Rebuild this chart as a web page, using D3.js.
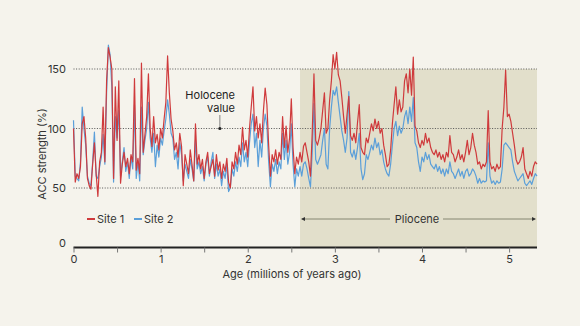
<!DOCTYPE html>
<html>
<head>
<meta charset="utf-8">
<script src="https://cdn.jsdelivr.net/npm/d3@7"></script>
<style>
  body { margin: 0; background: #f5f3ec; }
  svg { display: block; font-family: Inter, "Noto Sans", sans-serif; }
</style>
</head>
<body>
<svg width="580" height="326"></svg>
<script>
// ages sampled every 0.02 Myr, starting at 0
const ageStep = 0.02;

const site1 = [
  100,55,62,58,68,104,110,92,58,52,
  49,70,88,62,43,72,80,118,72,140,
  168,160,150,58,135,90,140,54,70,80,
  68,75,62,78,72,142,65,75,62,155,
  80,95,110,146,100,85,110,88,95,82,
  100,92,108,122,161,130,108,98,82,88,
  76,96,85,52,78,70,62,82,70,56,
  104,70,78,66,74,58,72,80,62,68,
  74,60,78,65,72,58,70,64,75,55,
  50,72,66,80,70,86,78,101,82,90,
  76,100,118,135,98,110,92,104,88,115,
  134,120,86,60,78,72,82,70,80,74,
  110,84,102,80,92,125,84,62,76,70,
  80,72,85,88,80,72,60,96,146,90,
  86,92,100,115,130,96,100,124,140,162,
  150,164,145,140,126,110,96,112,127,94,
  90,96,88,105,120,84,80,78,92,88,
  96,104,98,108,100,106,96,100,86,78,
  68,70,82,104,120,135,112,124,114,118,
  140,146,130,150,128,160,102,98,88,84,
  90,86,96,88,92,84,80,78,82,76,
  80,74,78,72,80,76,94,80,78,72,
  76,82,74,78,72,80,90,78,84,96,
  86,80,70,72,66,70,68,72,115,72,
  66,68,64,70,66,68,100,118,149,110,
  112,106,96,86,74,70,72,76,84,66,
  62,58,64,60,68,72,70
];

const site2 = [
  107,60,58,56,72,118,100,86,60,54,
  52,72,97,60,58,68,76,95,70,130,
  170,162,135,55,110,92,115,60,72,84,
  64,72,58,76,66,120,58,72,56,118,
  78,90,100,122,92,80,96,68,86,76,
  92,86,98,108,124,112,96,92,74,80,
  66,88,78,56,70,64,58,74,66,56,
  90,66,72,62,68,56,70,76,60,72,
  80,58,70,60,66,52,64,58,70,47,
  50,66,60,72,64,76,68,88,72,80,
  68,88,104,112,84,96,68,90,76,100,
  112,102,72,51,70,64,74,62,72,66,
  96,74,90,70,80,104,70,51,66,60,
  68,60,70,72,66,58,51,80,121,74,
  70,74,78,90,100,70,66,100,118,132,
  128,135,122,110,98,90,80,92,131,80,
  76,82,74,84,96,66,57,62,78,74,
  80,86,82,92,84,88,78,82,72,66,
  62,60,70,86,100,106,94,102,96,100,
  110,115,104,118,106,126,88,84,72,64,
  76,72,80,74,78,70,68,66,70,64,
  68,62,66,60,66,62,72,64,62,58,
  62,66,60,64,58,64,66,60,62,66,
  64,60,54,58,54,56,55,56,88,60,
  54,56,53,56,54,55,66,86,88,86,
  84,82,72,64,60,56,58,60,62,54,
  52,54,56,53,58,62,60
];

const yTicks = [0, 50, 100, 150];
const gridValues = [50, 100, 150];
const xTicks = [0, 0.5, 1, 1.5, 2, 2.5, 3, 3.5, 4, 4.5, 5];
const plioceneRange = [2.6, 5.32];
const holocene = { age: 1.68, value: 100 };
const seriesNames = ["Site 1", "Site 2"];

const red = "#cf3a3c";
const blue = "#5b9fd9";

const svg = d3.select("svg");

const x = d3.scaleLinear().domain([0, 5.32]).range([73.5, 537]);
const y = d3.scaleLinear().domain([0, 150]).range([247.5, 69]);

// pliocene shading
svg.append("rect")
   .attr("x", x(plioceneRange[0]))
   .attr("y", y(150))
   .attr("width", x(plioceneRange[1]) - x(plioceneRange[0]))
   .attr("height", y(0) - y(150))
   .attr("fill", "#e2dfcb");

// dotted grid
svg.append("g")
   .selectAll("line")
   .data(gridValues)
   .join("line")
   .attr("x1", x(0)).attr("x2", x(5.32))
   .attr("y1", d => y(d)).attr("y2", d => y(d))
   .attr("stroke", "#555")
   .attr("stroke-width", 1)
   .attr("stroke-dasharray", "1,1.6");

// y labels
const yAxis = d3.axisLeft(y).tickValues(yTicks).tickSize(0).tickPadding(4);
const gy = svg.append("g").attr("transform", "translate(70,0)").call(yAxis);
gy.select(".domain").remove();
gy.selectAll("text").attr("font-size", 11).attr("fill", "#333").attr("font-family", "Inter, sans-serif");
gy.selectAll(".tick").filter(d => d === 0).select("text").attr("dy", "-0.05em");

svg.append("text")
   .attr("transform", "translate(46,154) rotate(-90)")
   .attr("text-anchor", "middle")
   .attr("font-size", 11)
   .attr("fill", "#333")
   .text("ACC strength (%)");

// lines
const line = d3.line()
  .x((d, i) => x(i * ageStep))
  .y(d => y(d));

svg.append("path").attr("d", line(site2))
   .attr("fill", "none").attr("stroke", blue).attr("stroke-width", 1.2)
   .attr("stroke-linejoin", "round");
svg.append("path").attr("d", line(site1))
   .attr("fill", "none").attr("stroke", red).attr("stroke-width", 1.2)
   .attr("stroke-linejoin", "round");

// x axis
const xAxis = d3.axisBottom(x).tickValues(xTicks)
  .tickFormat(d => Number.isInteger(d) ? d : "")
  .tickSize(5).tickPadding(3);
const gx = svg.append("g").attr("transform", `translate(0,${y(0)})`).call(xAxis);
gx.select(".domain").attr("stroke", "#222").attr("stroke-width", 2).attr("d", `M${x(0)},0H${x(5.32)}`);
gx.selectAll(".tick line").attr("stroke", "#777");
gx.selectAll("text").attr("font-size", 11).attr("fill", "#333").attr("font-family", "Inter, sans-serif");

svg.append("text")
   .attr("x", 292).attr("y", 278)
   .attr("text-anchor", "middle")
   .attr("font-size", 11)
   .attr("fill", "#333")
   .text("Age (millions of years ago)");

// legend
const legend = svg.append("g").attr("transform", "translate(87,219)");
const items = legend.selectAll("g").data(seriesNames).join("g")
  .attr("transform", (d, i) => `translate(${i * 47},0)`);
items.append("line").attr("x1", 0).attr("x2", 8)
  .attr("stroke", (d, i) => i === 0 ? red : blue).attr("stroke-width", 2);
items.append("text").attr("x", 10).attr("dy", "0.35em")
  .attr("font-size", 11).attr("fill", "#333").text(d => d);

// pliocene arrow
const ay = 219;
const arrowColor = "#6e6e5c";
const pg = svg.append("g");
pg.append("line").attr("x1", x(plioceneRange[0]) + 2).attr("x2", 390).attr("y1", ay).attr("y2", ay)
  .attr("stroke", arrowColor).attr("stroke-width", 0.8);
pg.append("line").attr("x1", 443).attr("x2", x(plioceneRange[1]) - 2).attr("y1", ay).attr("y2", ay)
  .attr("stroke", arrowColor).attr("stroke-width", 0.8);
pg.append("path")
  .attr("d", `M${x(plioceneRange[0]) + 1},${ay}l4,-2v4z`).attr("fill", "#333");
pg.append("path")
  .attr("d", `M${x(plioceneRange[1]) - 1},${ay}l-4,-2v4z`).attr("fill", "#333");
pg.append("text").attr("x", 417).attr("y", ay).attr("dy", "0.35em")
  .attr("text-anchor", "middle").attr("font-size", 11).attr("fill", "#333").text("Pliocene");

// holocene annotation
const hx = x(holocene.age), hy = y(holocene.value);
svg.append("text").attr("x", 235).attr("y", 99).attr("text-anchor", "end")
  .attr("font-size", 11).attr("fill", "#222").text("Holocene");
svg.append("text").attr("x", 235).attr("y", 112).attr("text-anchor", "end")
  .attr("font-size", 11).attr("fill", "#222").text("value");
svg.append("line").attr("x1", hx).attr("x2", hx).attr("y1", 115).attr("y2", hy)
  .attr("stroke", "#666").attr("stroke-width", 0.8);
svg.append("circle").attr("cx", hx).attr("cy", hy).attr("r", 1.6).attr("fill", "#222");
</script>
</body>
</html>
